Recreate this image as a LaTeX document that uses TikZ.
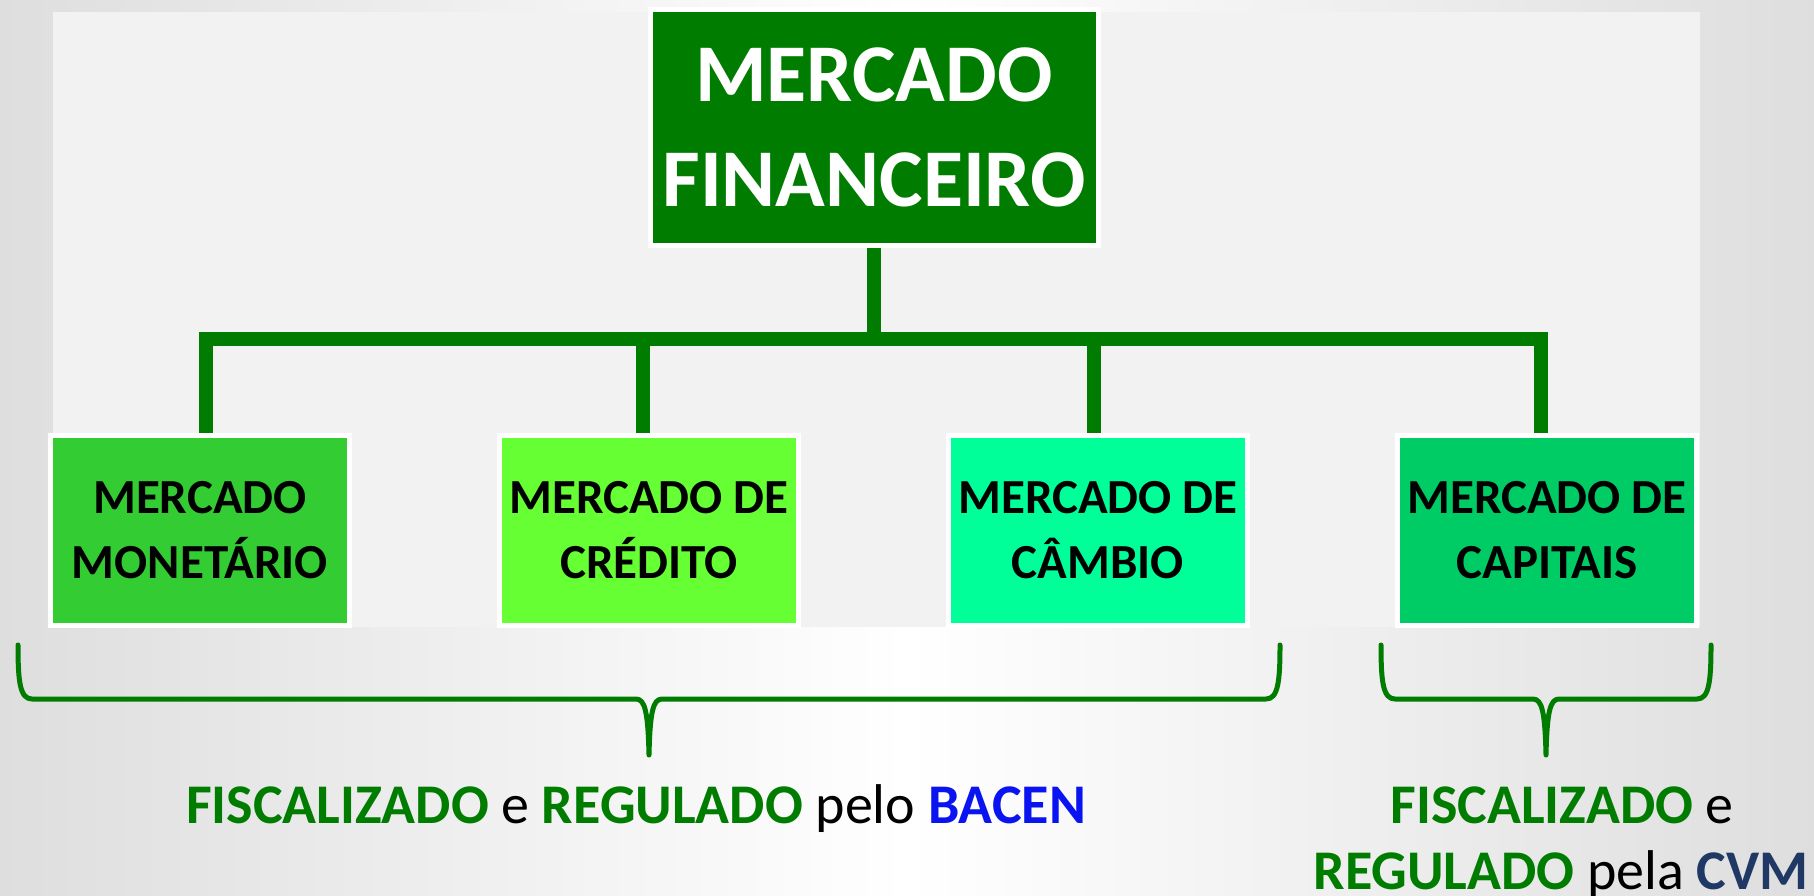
\documentclass[tikz,border=0pt]{standalone}
\usepackage{fontspec}
\setmainfont{Carlito}
\definecolor{dkgreen}{RGB}{0,125,0}
\definecolor{c1}{RGB}{51,204,51}
\definecolor{c2}{RGB}{102,255,51}
\definecolor{c3}{RGB}{0,255,153}
\definecolor{c4}{RGB}{0,204,102}
\definecolor{bacen}{RGB}{10,20,240}
\definecolor{cvm}{RGB}{31,56,100}
\definecolor{panel}{RGB}{242,242,242}
\definecolor{edge}{RGB}{222,222,222}
\tikzset{
  topbox/.style={rectangle, fill=dkgreen, draw=white, line width=5pt, minimum width=448pt, minimum height=236pt, inner sep=0pt, text=white, align=center, font=\bfseries\fontsize{82}{105}\selectfont},
  subbox/.style={rectangle, draw=white, line width=5pt, minimum width=299pt, minimum height=190pt, inner sep=0pt, text=black, align=center, font=\bfseries\fontsize{49}{65}\selectfont},
  conn/.style={draw=dkgreen, line width=14pt, line join=miter},
  bracepath/.style={draw=dkgreen, line width=5pt, line join=round, line cap=round},
  regtext/.style={anchor=base, inner sep=0pt, font=\fontsize{56}{66}\selectfont}
}
\begin{document}
\begin{tikzpicture}[x=1pt,y=-1pt]
\useasboundingbox (0,0) rectangle (1814,896);
\shade[left color=edge, right color=edge, middle color=white] (0,0) rectangle (1814,896);
\fill[panel] (53,12) rectangle (1700,627);

\node[topbox] (top) at (874,127.5) {MERCADO\\FINANCEIRO};
\node[subbox, fill=c1] (b1) at (200,530) {MERCADO\\MONETÁRIO};
\node[subbox, fill=c2] (b2) at (649,530) {MERCADO DE\\CRÉDITO};
\node[subbox, fill=c3] (b3) at (1098,530) {MERCADO DE\\CÂMBIO};
\node[subbox, fill=c4] (b4) at (1547,530) {MERCADO DE\\CAPITAIS};

\coordinate (bar) at (874,338.5);
\draw[conn] ([xshift=6pt]b1.north) |- (bar) -| ([xshift=-6pt]b4.north);
\draw[conn] (top.south) -- (top.south |- bar);
\draw[conn] ([xshift=-6pt]b2.north) -- ([xshift=-6pt]b2.north |- bar);
\draw[conn] ([xshift=-4pt]b3.north) -- ([xshift=-4pt]b3.north |- bar);

% braces
\draw[bracepath] (18,645) .. controls (18,682) and (20,699) .. (32,699) -- (636,699)
  .. controls (645,699) and (648,712) .. (649,755)
  .. controls (650,712) and (653,699) .. (662,699) -- (1266,699)
  .. controls (1278,699) and (1280,682) .. (1280,645);
\draw[bracepath] (1381,645) .. controls (1381,682) and (1383,699) .. (1395,699) -- (1533,699)
  .. controls (1542,699) and (1545,712) .. (1546,755)
  .. controls (1547,712) and (1550,699) .. (1559,699) -- (1697,699)
  .. controls (1709,699) and (1711,682) .. (1711,645);

\node[regtext] (reg1) at (636,823) {\textcolor{dkgreen}{\bfseries FISCALIZADO} e \textcolor{dkgreen}{\bfseries REGULADO} pelo \textcolor{bacen}{\bfseries BACEN}};
\node[regtext] (reg2a) at (1562,823) {\textcolor{dkgreen}{\bfseries FISCALIZADO} e};
\node[regtext] (reg2b) at (1561,889) {\textcolor{dkgreen}{\bfseries REGULADO} pela \textcolor{cvm}{\bfseries CVM}};
\end{tikzpicture}
\end{document}
